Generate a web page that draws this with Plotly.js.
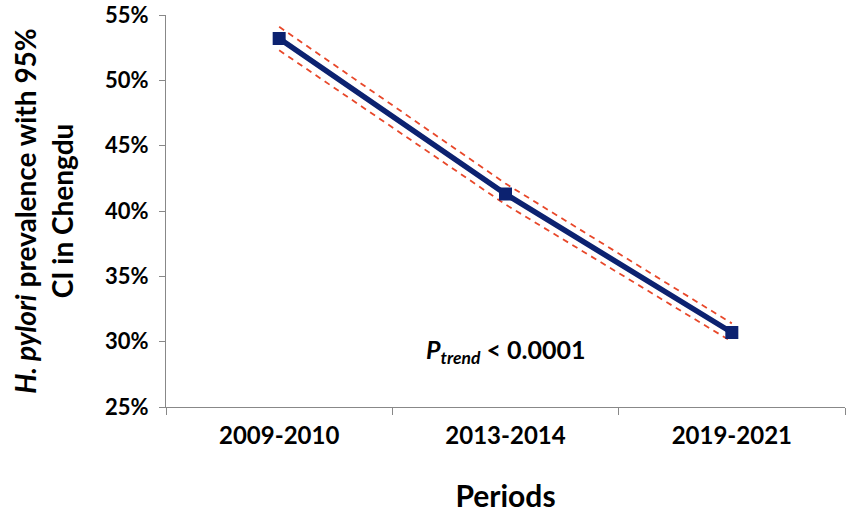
<!DOCTYPE html>
<html>
<head>
<meta charset="utf-8">
<script src="https://cdn.plot.ly/plotly-3.0.1.min.js"></script>
<style>html,body{margin:0;padding:0;background:#fff;}#chart{width:851px;height:515px;}</style>
</head>
<body>
<div id="chart"></div>
<script>
const periods = ["2009-2010", "2013-2014", "2019-2021"];
const prevalence = [0.532, 0.413, 0.307];
const ciLower = [0.523, 0.405, 0.300];
const ciUpper = [0.541, 0.421, 0.314];
const yTickVals = [0.25, 0.30, 0.35, 0.40, 0.45, 0.50, 0.55];

const FONT = "Lato, 'Open Sans', sans-serif";
const navy = "#0c2270";
const red = "#e8482a";

const traces = [
  {x: periods, y: ciUpper, type: "scatter", mode: "lines",
   line: {color: red, width: 1.8, dash: "6px,5px"}, hoverinfo: "skip", showlegend: false},
  {x: periods, y: ciLower, type: "scatter", mode: "lines",
   line: {color: red, width: 1.8, dash: "6px,5px"}, hoverinfo: "skip", showlegend: false},
  {x: periods, y: prevalence, type: "scatter", mode: "lines+markers",
   line: {color: navy, width: 5.5},
   marker: {symbol: "square", size: 13, color: navy, line: {color: navy, width: 0}},
   showlegend: false}
];

const layout = {
  width: 851, height: 515,
  margin: {l: 166, r: 6, t: 15, b: 108},
  paper_bgcolor: "#fff", plot_bgcolor: "#fff",
  font: {family: FONT, color: "#000"},
  xaxis: {
    type: "category", range: [-0.5, 2.5],
    showline: true, linecolor: "#888", linewidth: 1,
    ticks: "outside", tickson: "boundaries", ticklen: 7, tickcolor: "#888",
    ticklabelstandoff: 7,
    showgrid: false, zeroline: false,
    tickfont: {family: FONT, size: 24, color: "#000", weight: "bold"},
    title: {text: "<b>Periods</b>", font: {family: FONT, size: 30, color: "#000"}, standoff: 38}
  },
  yaxis: {
    range: [0.25, 0.55], tickvals: yTickVals, tickformat: ".0%",
    showline: true, linecolor: "#888", linewidth: 1,
    ticks: "outside", ticklen: 6, tickcolor: "#888",
    ticklabelstandoff: 6,
    showgrid: false, zeroline: false,
    tickfont: {family: FONT, size: 22, color: "#000", weight: "bold"},
    title: {text: "<b><i>H. pylori</i> prevalence with 95%<br>CI in Chengdu</b>",
            font: {family: FONT, size: 28, color: "#000"}, standoff: 23}
  },
  annotations: [{
    x: 1, y: 0.293, xref: "x", yref: "y", showarrow: false,
    text: "<b><i>P</i><sub><i>trend</i></sub> < 0.0001</b>",
    font: {family: FONT, size: 25, color: "#000"}
  }]
};

Plotly.newPlot("chart", traces, layout, {displayModeBar: false, staticPlot: true});
</script>
</body>
</html>
